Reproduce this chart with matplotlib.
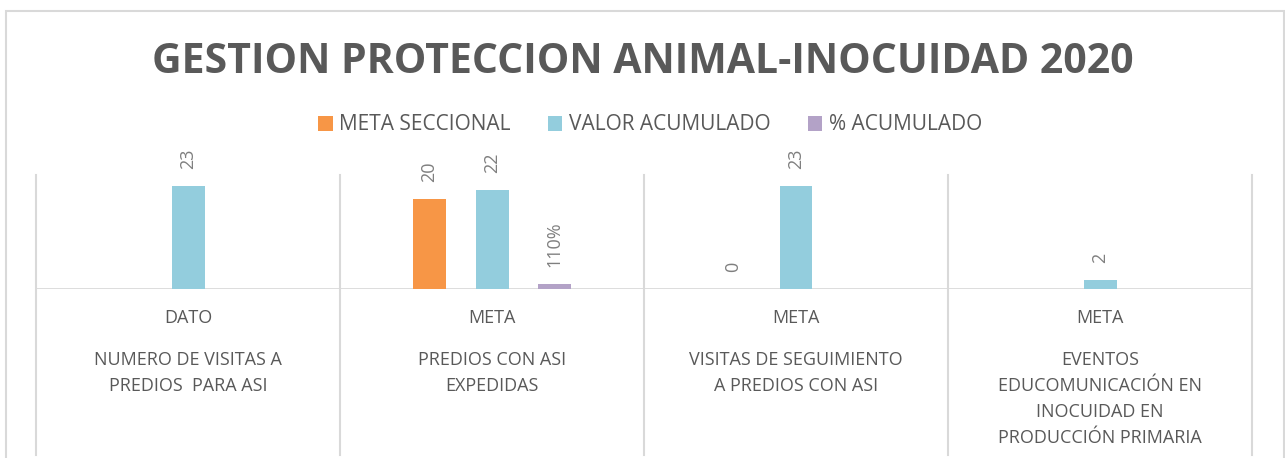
import matplotlib
matplotlib.use("Agg")
import matplotlib.pyplot as plt
import matplotlib.transforms as mtransforms
from matplotlib.patches import Rectangle, Patch
import numpy as np

plt.rcParams['font.family'] = ['Open Sans', 'DejaVu Sans']

# ---- data ----
levels = ["DATO", "META", "META", "META"]
categories = [
    "NUMERO DE VISITAS A\nPREDIOS  PARA ASI",
    "PREDIOS CON ASI\nEXPEDIDAS",
    "VISITAS DE SEGUIMIENTO\nA PREDIOS CON ASI",
    "EVENTOS\nEDUCOMUNICACIÓN EN\nINOCUIDAD EN\nPRODUCCIÓN PRIMARIA",
]
series_names = ["META SECCIONAL", "VALOR ACUMULADO", "% ACUMULADO"]
meta_seccional = [None, 20, 0, None]
valor_acumulado = [23, 22, 23, 2]
pct_acumulado = [None, 1.10, None, None]
pct_labels = [None, "110%", None, None]
title = "GESTION PROTECCION ANIMAL-INOCUIDAD 2020"

colors = ["#F79646", "#93CDDD", "#B3A2C7"]
text_gray = "#595959"
label_gray = "#7F7F7F"
line_gray = "#D9D9D9"

W, H = 1285, 458
fig = plt.figure(figsize=(W / 100, H / 100), dpi=100)

# outer chart border
fig.patches.append(Rectangle((6 / W, -0.05), (1284 - 6) / W, 1 - 11 / H + 0.05,
                             transform=fig.transFigure, fill=False,
                             edgecolor=line_gray, linewidth=1.5))

ax_left, ax_right = 36, 1252
ax_top, ax_base = 175, 289
ax = fig.add_axes([ax_left / W, 1 - ax_base / H, (ax_right - ax_left) / W, (ax_base - ax_top) / H])

n = len(categories)
x = np.arange(n)
bw = 33 / 304
off = 62.5 / 304
px_per_unit = 4.5
ax.set_xlim(-0.5, n - 0.5)
ax.set_ylim(0, (ax_base - ax_top) / px_per_unit)

all_series = [meta_seccional, valor_acumulado, pct_acumulado]
for i, (vals, col) in enumerate(zip(all_series, colors)):
    for j, v in enumerate(vals):
        if v is None:
            continue
        xpos = x[j] + (i - 1) * off
        ax.bar(xpos, v, width=bw, color=col, edgecolor='none', zorder=2)
        if i == 2:
            lab = pct_labels[j]
        else:
            lab = f"{v:g}"
        ax.annotate(lab, xy=(xpos, v), xytext=(0, 12), textcoords='offset points',
                    rotation=90, ha='center', va='bottom', fontsize=13,
                    color=label_gray)

for s in ax.spines.values():
    s.set_visible(False)
ax.set_xticks([])
ax.set_yticks([])
ax.patch.set_alpha(0)

# baseline
ax.axhline(0, color=line_gray, linewidth=2, zorder=1)

# category separators
trans = mtransforms.blended_transform_factory(ax.transData, ax.transAxes)
y_bottom = (ax_base - 455) / (ax_base - ax_top)
for b in np.arange(-0.5, n, 1.0):
    ax.plot([b, b], [1, y_bottom], color=line_gray, linewidth=1.5,
            transform=trans, clip_on=False, zorder=1)

# category labels
y_lvl = (ax_base - 318) / (ax_base - ax_top)
y_cat = (ax_base - 351) / (ax_base - ax_top)
for j in range(n):
    ax.text(x[j], y_lvl, levels[j], transform=trans, ha='center', va='center',
            fontsize=13, color=text_gray)
    ax.text(x[j], y_cat, categories[j], transform=trans, ha='center', va='top',
            fontsize=13, color=text_gray, linespacing=1.56, multialignment='center')

# title
fig.text(0.5, 1 - 73 / H, title, ha='center', va='baseline', fontsize=29.5,
         fontweight='bold', color=text_gray)

# legend
handles = [Patch(facecolor=c, edgecolor='none') for c in colors]
fig.legend(handles, series_names, loc='center', bbox_to_anchor=(650 / W, 1 - 125 / H),
           ncol=3, frameon=False, fontsize=15, handlelength=0.7, handleheight=0.7,
           handletextpad=0.3, columnspacing=1.8, labelcolor=text_gray)

fig.savefig("out.png", dpi=100)
